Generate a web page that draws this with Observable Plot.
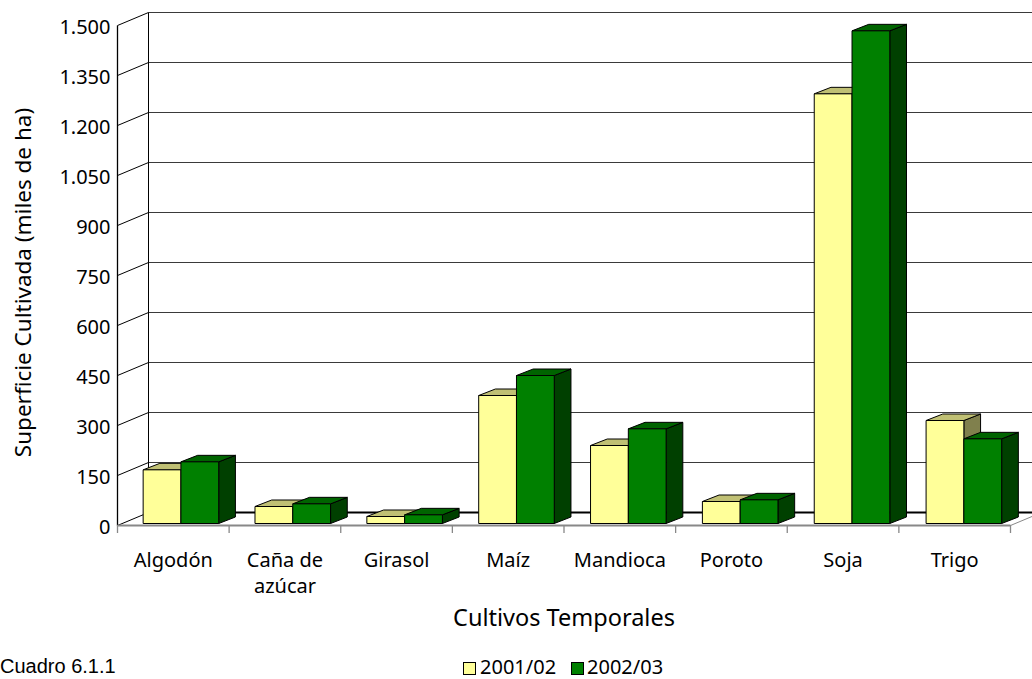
<!DOCTYPE html>
<html><head><meta charset="utf-8">
<script src="https://cdn.jsdelivr.net/npm/d3@7"></script>
<script src="https://cdn.jsdelivr.net/npm/@observablehq/plot@0.6"></script>
<style>
html,body{margin:0;padding:0;background:#fff;overflow:hidden}
#wrap{position:relative;width:1032px;height:679px;overflow:hidden}
#below{position:relative;width:1032px;height:34px;font-family:"Noto Sans",sans-serif;font-size:20px;color:#000}
.sw{position:absolute;top:17px;width:11px;height:11px;border:1px solid #000}
.lt{position:absolute;top:14px;line-height:16px;white-space:nowrap}
#cap{position:absolute;left:0px;top:11px;font-family:"Liberation Sans",Arial,sans-serif;font-size:20px;line-height:20px;white-space:nowrap}
</style></head><body>
<div id="wrap"></div>
<script>
// ---- data ----
const categories = ["Algodón", "Caña de\nazúcar", "Girasol", "Maíz", "Mandioca", "Poroto", "Soja", "Trigo"];
const seriesNames = ["2001/02", "2002/03"];
const values2001 = [161, 51, 21, 384, 234, 66, 1289, 309];
const values2002 = [185, 59, 26, 444, 284, 71, 1478, 254];
const yTicks = [0, 150, 300, 450, 600, 750, 900, 1050, 1200, 1350, 1500];
const yTitle = "Superficie Cultivada (miles de ha)";
const xTitle = "Cultivos Temporales";
const caption = "Cuadro 6.1.1";

// ---- styling / layout ----
const seriesFront = ["#ffff99", "#008000"];
const seriesTop = ["#c0c074", "#006400"];
const seriesSide = ["#80804d", "#004000"];
const W = 1032, H = 645, mL = 117, mR = 22, mT = 25, mB = 120;
const nCat = categories.length;
const yMax = 1500;
const ux = nCat / (W - mL - mR);      // data units per px (x)
const uy = yMax / (H - mT - mB);      // data units per px (y)
const WALL = [31, -13];               // depth offset of back wall (px)
const BF = [5, -2], BB = [21.7, -8.5]; // bar front / back depth offsets (px)
const BAR0 = 0.185, BARW = 0.3385;    // bar placement inside band

const P = (x, v, off) => ({x: x + off[0] * ux, y: v - off[1] * uy});
const seriesValues = [values2001, values2002];

const faces = {front: [[], []], top: [[], []], side: [[], []]};
categories.forEach((c, i) => {
  seriesValues.forEach((vals, s) => {
    const v = vals[i];
    const x0 = i + BAR0 + s * BARW + i * 0.002, x1 = x0 + BARW;
    const id = c + s;
    const poly = (pts) => [...pts, pts[0]].map(p => ({...p, id}));
    faces.front[s].push(...poly([P(x0, 0, BF), P(x1, 0, BF), P(x1, v, BF), P(x0, v, BF)]));
    faces.top[s].push(...poly([P(x0, v, BF), P(x1, v, BF), P(x1, v, BB), P(x0, v, BB)]));
    faces.side[s].push(...poly([P(x1, 0, BF), P(x1, 0, BB), P(x1, v, BB), P(x1, v, BF)]));
  });
});

const floorPoly = [P(0, 0, [0, 0]), P(nCat, 0, [0, 0]), P(nCat, 0, WALL), P(0, 0, WALL), P(0, 0, [0, 0])];
const seg = (a, b) => ({x1: a.x, y1: a.y, x2: b.x, y2: b.y});
const grid = yTicks.filter(v => v > 0).map(v => seg(P(0, v, WALL), P(nCat + 0.3, v, WALL)));
const diag = yTicks.map(v => seg(P(0, v, [0, 0]), P(0, v, WALL)));
const backLeft = [seg(P(0, 0, WALL), P(0, yMax, WALL))];
const frontAxis = [seg(P(0, 0, [0, 0]), P(0, yMax, [0, 0]))];
const floorBack = [seg(P(0, 0, WALL), P(nCat + 0.3, 0, WALL))];
const floorFront = [seg(P(0, 0, [0, 0]), P(nCat, 0, [0, 0]))];
const floorRight = [seg(P(nCat, 0, [0, 0]), P(nCat, 0, WALL))];
const catTicks = [...categories.map((_, i) => i), nCat];

const locale = d3.formatLocale({decimal: ",", thousands: ".", grouping: [3], currency: ["", ""]});
const fmt = locale.format(",");

const lineOpts = {x: "x", y: "y", z: "id", stroke: "#000", strokeWidth: 1, strokeLinejoin: "miter", strokeLinecap: "butt"};
const linkOpts = {x1: "x1", y1: "y1", x2: "x2", y2: "y2"};

const chart = Plot.plot({
  width: W, height: H,
  marginLeft: mL, marginRight: mR, marginTop: mT, marginBottom: mB,
  style: {fontFamily: "Noto Sans", overflow: "visible", background: "#fff"},
  x: {type: "linear", domain: [0, nCat], axis: null},
  y: {type: "linear", domain: [0, yMax], axis: null},
  marks: [
    Plot.line(floorPoly, {x: "x", y: "y", fill: "#fff", stroke: "none"}),
    Plot.link(grid, {...linkOpts, stroke: "#3a3a3a", strokeWidth: 1}),
    Plot.link(diag, {...linkOpts, stroke: "#000", strokeWidth: 1}),
    Plot.link(backLeft, {...linkOpts, stroke: "#000", strokeWidth: 1}),
    Plot.link(frontAxis, {...linkOpts, stroke: "#000", strokeWidth: 1.3}),
    Plot.link(floorBack, {...linkOpts, stroke: "#000", strokeWidth: 2}),
    Plot.link(floorFront, {...linkOpts, stroke: "#888", strokeWidth: 2}),
    Plot.link(floorRight, {...linkOpts, stroke: "#888", strokeWidth: 1}),
    Plot.ruleX(catTicks, {x: d => d, y1: () => 0, y2: () => -8 * uy, stroke: "#888", strokeWidth: 1.3}),
    Plot.line(faces.side[0], {...lineOpts, fill: seriesSide[0]}),
    Plot.line(faces.side[1], {...lineOpts, fill: seriesSide[1]}),
    Plot.line(faces.top[0], {...lineOpts, fill: seriesTop[0]}),
    Plot.line(faces.top[1], {...lineOpts, fill: seriesTop[1]}),
    Plot.line(faces.front[0], {...lineOpts, fill: seriesFront[0]}),
    Plot.line(faces.front[1], {...lineOpts, fill: seriesFront[1]}),
    Plot.text(yTicks, {x: () => 0, y: d => d, text: d => fmt(d), textAnchor: "end", dx: -7, dy: 2, fontSize: 20, fontFamily: "Noto Sans", fill: "#000"}),
    Plot.text(categories, {x: (d, i) => i + 0.5, y: () => 0, text: d => d, lineAnchor: "top", dy: 22.5, fontSize: 20, lineHeight: 1.32, fontFamily: "Noto Sans", fill: "#000"}),
    Plot.text([yTitle], {text: d => d, frameAnchor: "left", textAnchor: "middle", rotate: -90, dx: -93.5, dy: 7, fontSize: 22.5, fontFamily: "Noto Sans", fill: "#000"}),
    Plot.text([xTitle], {text: d => d, frameAnchor: "bottom", textAnchor: "middle", dy: 100, fontSize: 23.5, fontFamily: "Noto Sans", fill: "#000"})
  ]
});
const wrap = document.getElementById("wrap");
wrap.appendChild(chart);

const below = document.createElement("div");
below.id = "below";
below.innerHTML = `<div id="cap">${caption}</div>` +
  `<div class="sw" style="left:463px;background:${seriesFront[0]}"></div><div class="lt" style="left:480px">${seriesNames[0]}</div>` +
  `<div class="sw" style="left:571px;background:${seriesFront[1]}"></div><div class="lt" style="left:587px">${seriesNames[1]}</div>`;
wrap.appendChild(below);
</script>
</body></html>
